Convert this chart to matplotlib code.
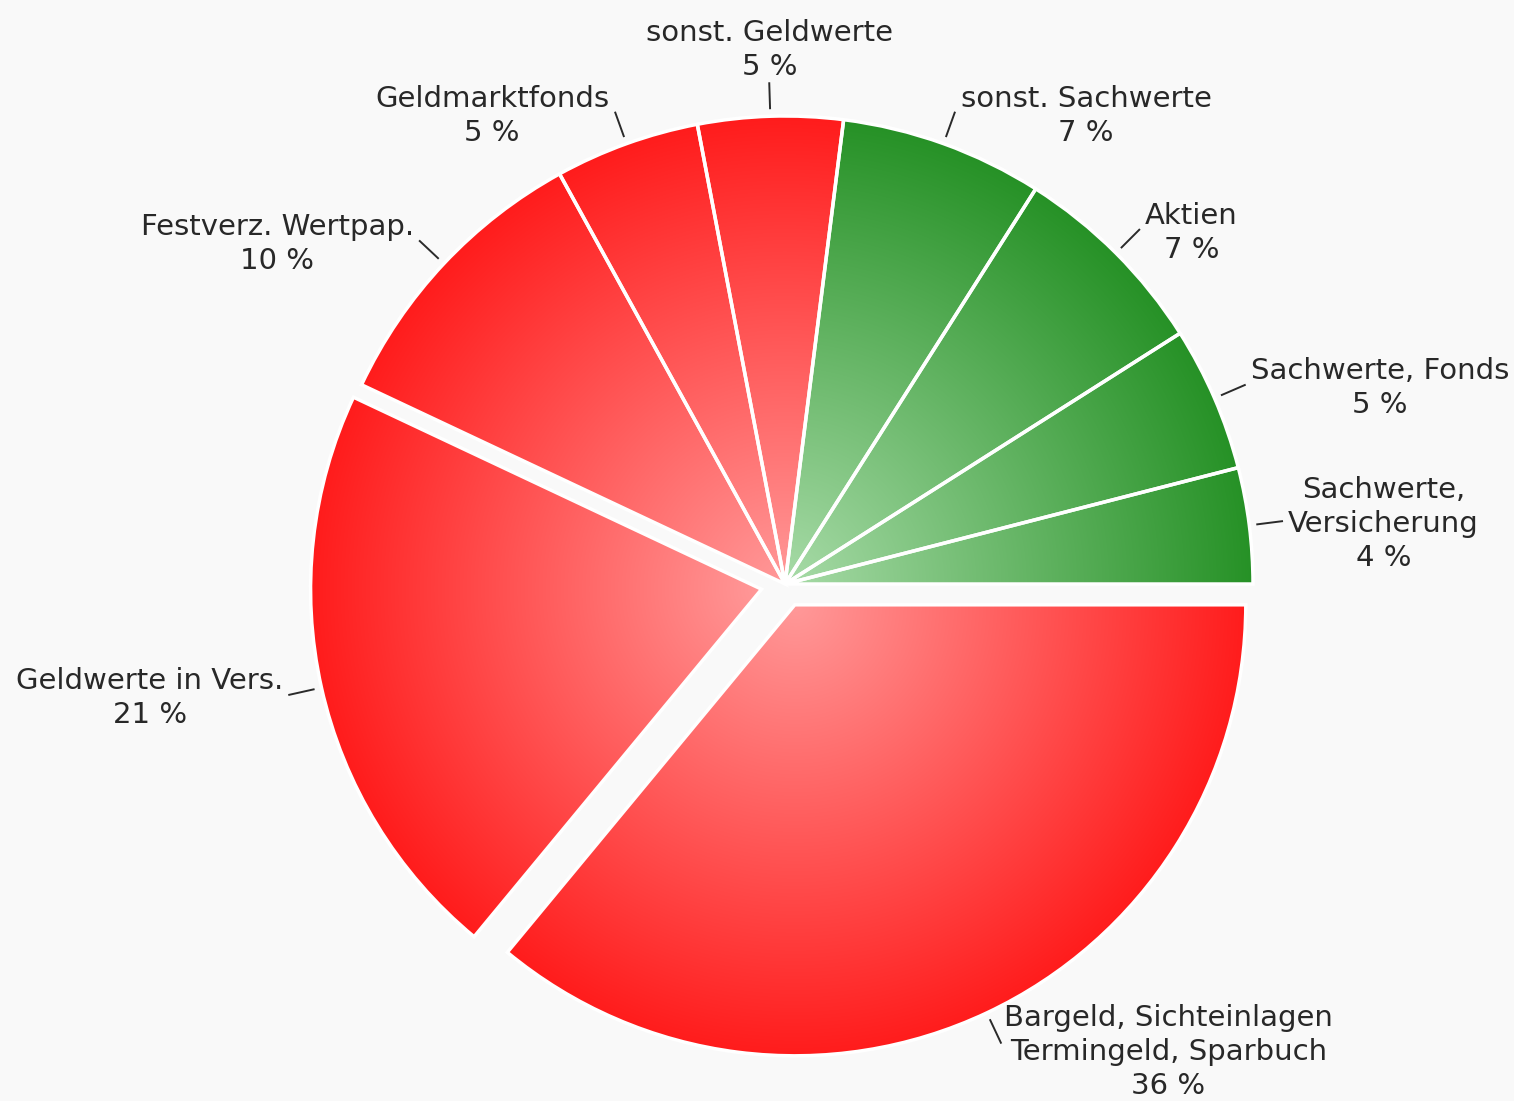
import numpy as np
import matplotlib.pyplot as plt

# slices, counter-clockwise from 3 o'clock
labels = ['Sachwerte,\nVersicherung', 'Sachwerte, Fonds', 'Aktien', 'sonst. Sachwerte',
          'sonst. Geldwerte', 'Geldmarktfonds', 'Festverz. Wertpap.', 'Geldwerte in Vers.',
          'Bargeld, Sichteinlagen\nTermingeld, Sparbuch']
values = [4, 5, 7, 7, 5, 5, 10, 21, 36]
groups = ['sach', 'sach', 'sach', 'sach', 'geld', 'geld', 'geld', 'geld', 'geld']
explode = [0, 0, 0, 0, 0, 0, 0, 24, 23]  # pixels (pie uses data units)

# radial gradient: colour at the tip, colour at the rim
shades = {
    'geld': ((1.0, 0.60, 0.60), (1.0, 0.11, 0.11)),
    'sach': ((0.66, 0.86, 0.66), (0.15, 0.57, 0.15)),
}

W, H = 1514, 1101
bg = '#f9f9f9'
fig = plt.figure(figsize=(W / 100, H / 100), dpi=100, facecolor=bg)
ax = fig.add_axes([0, 0, 1, 1])
ax.set_facecolor(bg)

cx, cy, R = 785, 517, 468
R_out = 451  # pulled-out slices are drawn a bit smaller

wedges, _ = ax.pie(values, explode=explode, radius=R, center=(cx, cy), startangle=0,
                   counterclock=True,
                   wedgeprops=dict(facecolor='none', edgecolor='white', linewidth=2.5))

n = 400
for w, g, ex in zip(wedges, groups, explode):
    if ex > 0:
        w.set_radius(R_out)
    x0, y0 = w.center
    r = w.r
    xs = np.linspace(x0 - r, x0 + r, n)
    ys = np.linspace(y0 - r, y0 + r, n)
    X, Y = np.meshgrid(xs, ys)
    t = np.clip(np.hypot(X - x0, Y - y0) / r, 0, 1)[..., None]
    c0 = np.array(shades[g][0])
    c1 = np.array(shades[g][1])
    img = c0 + (c1 - c0) * t
    im = ax.imshow(img, extent=(x0 - r, x0 + r, y0 - r, y0 + r), origin='lower',
                   interpolation='bilinear', zorder=1)
    im.set_clip_path(w)
    w.set_zorder(2)

# connectors and labels
for w, lab, v in zip(wedges, labels, values):
    ang = np.deg2rad((w.theta1 + w.theta2) / 2)
    dx, dy = np.cos(ang), np.sin(ang)
    x0, y0 = w.center
    r = w.r
    ax.plot([x0 + (r + 8) * dx, x0 + (r + 33) * dx],
            [y0 + (r + 8) * dy, y0 + (r + 33) * dy], color='#2a2a2a', lw=1.4, zorder=3)
    ex, ey = x0 + (r + 33) * dx, y0 + (r + 33) * dy
    txt = f"{lab}\n{v} %"
    kw = dict(fontsize=21, color='#282828', family='DejaVu Sans',
              multialignment='center', linespacing=1.28, zorder=4)
    if abs(dx) < 0.2:
        ax.text(ex, ey + 2, txt, ha='center', va='bottom', **kw)
    else:
        shift = 9 if dy < -0.5 else 3
        gap = 3 if dy < -0.5 else 6
        ax.text(ex + gap * np.sign(dx), ey - shift, txt, ha='left' if dx > 0 else 'right',
                va='center', **kw)

ax.set_xlim(0, W)
ax.set_ylim(0, H)
ax.set_aspect('equal')
ax.axis('off')

plt.savefig('out.png', dpi=100, facecolor=bg)
